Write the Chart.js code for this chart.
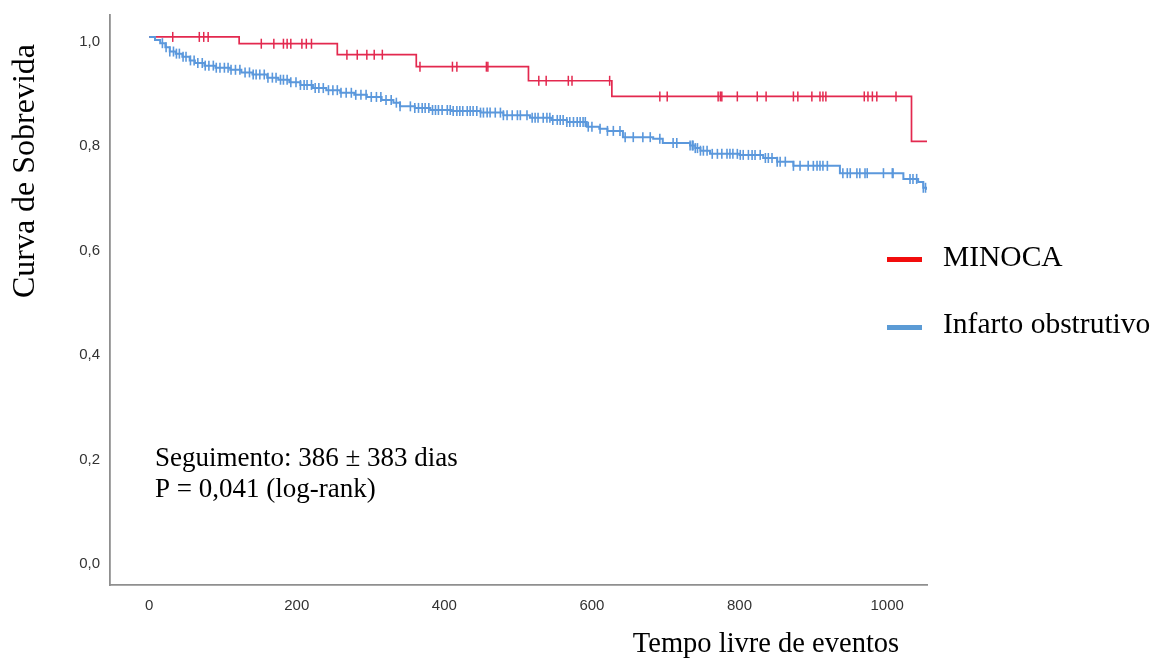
<!DOCTYPE html>
<html>
<head>
<meta charset="utf-8">
<script src="https://cdn.jsdelivr.net/npm/chart.js@4.4.1/dist/chart.umd.min.js"></script>
<style>
  html, body { margin: 0; padding: 0; background: #ffffff; }
  #wrap { width: 1158px; height: 659px; position: relative; }
</style>
</head>
<body>
<div id="wrap"><canvas id="c" width="1158" height="659"></canvas></div>
<script>
// ---- Data ----
const seriesNames = ["MINOCA", "Infarto obstrutivo"];

// MINOCA: Kaplan-Meier steps (time, survival)
const minocaTimes = [0, 122, 255, 362, 514, 627, 1033, 1054];
const minocaSurv  = [1.0, 0.987, 0.966, 0.943, 0.916, 0.886, 0.800, 0.800];
// MINOCA censored times
const minocaCensor = [32, 68, 74, 80, 152, 169, 182, 187, 192, 207, 213, 220, 268, 282, 295, 305, 316,
  367, 411, 417, 457, 459, 528, 538, 568, 573, 624, 692, 702, 771, 774, 776, 797, 824, 836, 873, 879,
  898, 909, 913, 917, 969, 974, 980, 986, 1012];

// Infarto obstrutivo: Kaplan-Meier steps (time, survival)
const infartoTimes = [0, 8, 15, 22, 28, 36, 45, 55, 62, 75, 90, 110, 125, 140, 160, 175, 190, 205, 222,
  240, 259, 278, 295, 315, 331, 340, 360, 381, 410, 449, 480, 516, 545, 566, 593, 610, 621, 642, 683,
  696, 733, 740, 747, 760, 800, 832, 851, 873, 936, 1022, 1042, 1049, 1054];
const infartoSurv  = [1.0, 0.994, 0.988, 0.980, 0.972, 0.968, 0.962, 0.955, 0.950, 0.945, 0.941, 0.937,
  0.932, 0.928, 0.922, 0.918, 0.913, 0.908, 0.902, 0.898, 0.893, 0.889, 0.885, 0.879, 0.874, 0.867,
  0.864, 0.860, 0.858, 0.855, 0.850, 0.845, 0.841, 0.837, 0.828, 0.824, 0.820, 0.808, 0.805, 0.797,
  0.792, 0.787, 0.782, 0.776, 0.774, 0.768, 0.761, 0.753, 0.739, 0.728, 0.722, 0.711, 0.707];
// Infarto obstrutivo censored times
const infartoCensor = [18, 23, 28, 33, 37, 41, 46, 50, 56, 61, 66, 72, 76, 81, 87, 91, 96, 102, 107, 111,
  117, 123, 130, 136, 141, 145, 150, 156, 161, 167, 172, 178, 182, 187, 192, 199, 205, 210, 214, 220,
  225, 230, 236, 243, 249, 255, 260, 267, 274, 280, 287, 294, 301, 308, 314, 321, 328, 335,
  340, 354, 360, 365, 370, 374, 379, 384, 388, 392, 397, 404, 408, 412, 417, 421, 425, 431, 435, 439,
  444, 449, 453, 458, 462, 469, 476, 480, 485, 492, 499, 503, 512, 519, 523, 527, 534, 539, 543, 547,
  553, 557, 561, 566, 570, 575, 580, 584, 588, 591, 595, 600, 611, 621, 629, 638, 645, 656, 669, 679,
  692, 710, 715, 733, 736, 737, 740, 743, 747, 751, 756, 763, 770, 776, 783, 787, 791, 797, 801, 805,
  812, 817, 821, 828, 835, 839, 844, 851, 855, 862, 873, 882, 893, 900, 905, 909, 913, 919, 940, 946,
  950, 959, 963, 970, 973, 995, 1007, 1008, 1031, 1035, 1040, 1049, 1052];

// Tick labels
const xTicks = [0, 200, 400, 600, 800, 1000];
const yTicks = [0.0, 0.2, 0.4, 0.6, 0.8, 1.0];

// ---- Texts ----
const yTitle = "Curva de Sobrevida";
const xTitle = "Tempo livre de eventos";
const noteLines = ["Seguimento: 386 \u00B1 383 dias", "P = 0,041 (log-rank)"];

// ---- Helpers ----
function toPoints(times, surv) { return times.map((t, i) => ({ x: t, y: surv[i] })); }
function survAt(times, surv, t) {
  let s = surv[0];
  for (let i = 0; i < times.length; i++) { if (times[i] <= t) s = surv[i]; else break; }
  return s;
}
function censorPoints(censor, times, surv) { return censor.map(t => ({ x: t, y: survAt(times, surv, t) })); }

const RED = '#e3294f';
const BLUE = '#5b98dc';
const RED_LEG = '#f20d0d';
const BLUE_LEG = '#5b9bd5';

const overlay = {
  id: 'overlay',
  afterDraw(chart) {
    const ctx = chart.ctx;
    ctx.save();
    ctx.fillStyle = '#000';
    // y title
    ctx.save();
    ctx.translate(34, 171);
    ctx.rotate(-Math.PI / 2);
    ctx.font = '32px "Liberation Serif", "Times New Roman", serif';
    ctx.textAlign = 'center';
    ctx.textBaseline = 'alphabetic';
    ctx.fillText(yTitle, 0, 0);
    ctx.restore();
    // x title
    ctx.font = '28.5px "Liberation Serif", "Times New Roman", serif';
    ctx.textAlign = 'center';
    ctx.textBaseline = 'alphabetic';
    ctx.fillText(xTitle, 766, 652);
    // note
    ctx.font = '27px "Liberation Serif", "Times New Roman", serif';
    ctx.textAlign = 'left';
    ctx.fillText(noteLines[0], 155, 466);
    ctx.fillText(noteLines[1], 155, 497);
    // legend
    ctx.font = '29.5px "Liberation Serif", "Times New Roman", serif';
    ctx.fillStyle = RED_LEG;
    ctx.fillRect(887, 257, 35, 5);
    ctx.fillStyle = BLUE_LEG;
    ctx.fillRect(887, 325, 35, 5);
    ctx.fillStyle = '#000';
    ctx.fillText(seriesNames[0], 943, 266);
    ctx.fillText(seriesNames[1], 943, 333);
    ctx.restore();
  }
};

new Chart(document.getElementById('c'), {
  type: 'scatter',
  data: {
    datasets: [
      { label: seriesNames[1], data: toPoints(infartoTimes, infartoSurv), showLine: true, stepped: true,
        borderColor: BLUE, borderWidth: 2, pointRadius: 0, fill: false },
      { label: seriesNames[1] + ' censurado', data: censorPoints(infartoCensor, infartoTimes, infartoSurv),
        showLine: false, pointStyle: 'line', rotation: 90, pointRadius: 5, borderColor: BLUE,
        backgroundColor: BLUE, pointBorderWidth: 1.6 },
      { label: seriesNames[0], data: toPoints(minocaTimes, minocaSurv), showLine: true, stepped: true,
        borderColor: RED, borderWidth: 1.7, pointRadius: 0, fill: false },
      { label: seriesNames[0] + ' censurado', data: censorPoints(minocaCensor, minocaTimes, minocaSurv),
        showLine: false, pointStyle: 'line', rotation: 90, pointRadius: 5, borderColor: RED,
        backgroundColor: RED, pointBorderWidth: 1.5 }
    ]
  },
  options: {
    responsive: false,
    animation: false,
    events: [],
    layout: { padding: { left: 0, top: 15, right: 231, bottom: 0 } },
    plugins: { legend: { display: false }, tooltip: { enabled: false } },
    scales: {
      x: {
        type: 'linear',
        min: -53, max: 1054,
        afterFit: s => { s.height = 74; s.paddingLeft = 0; s.paddingRight = 0; },
        afterBuildTicks: s => { s.ticks = xTicks.map(v => ({ value: v })); },
        grid: { display: false, drawTicks: false },
        border: { display: true, color: '#8f8f8f', width: 1.8 },
        ticks: { padding: 12, color: '#333', font: { family: '"Liberation Sans", Arial, sans-serif', size: 15 },
          maxRotation: 0, autoSkip: false, callback: v => String(v) }
      },
      y: {
        type: 'linear',
        min: -0.050, max: 1.042,
        afterFit: s => { s.width = 110; s.paddingTop = 0; s.paddingBottom = 0; },
        afterBuildTicks: s => { s.ticks = yTicks.map(v => ({ value: v })); },
        grid: { display: false, drawTicks: false },
        border: { display: true, color: '#8f8f8f', width: 1.8 },
        ticks: { padding: 10, labelOffset: 5, color: '#333', font: { family: '"Liberation Sans", Arial, sans-serif', size: 15 },
          autoSkip: false, callback: v => v.toFixed(1).replace('.', ',') }
      }
    }
  },
  plugins: [overlay]
});
</script>
</body>
</html>
